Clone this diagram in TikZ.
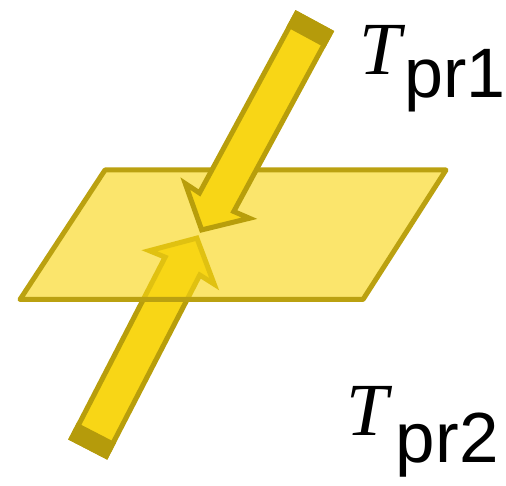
\documentclass[tikz,border=0pt]{standalone}
\usepackage{fontspec}
\setmainfont{Liberation Serif}
\newfontfamily\Sfnt{Liberation Sans}
\definecolor{arrowfill}{HTML}{F8D616}
\definecolor{arrowline}{HTML}{B89E0B}
\definecolor{capcol}{HTML}{B59B0B}
\definecolor{planeline}{HTML}{BBA110}
\begin{document}
\begin{tikzpicture}[x=1pt,y=1pt,
  arrowbody/.style={fill=arrowfill, draw=arrowline, line width=5pt, line join=miter, miter limit=10},
  arrowcap/.style={fill=capcol, draw=capcol, line width=5pt, line join=miter},
  planebox/.style={fill=arrowfill, fill opacity=0.63, draw=planeline, draw opacity=1, line width=5pt, line join=round},
  lbl/.style={anchor=base west, inner sep=0pt, font=\fontsize{75}{75}\selectfont}]
\useasboundingbox (0,0) rectangle (506,485);
% lower arrow (behind the plane)
\begin{scope}[shift={(198.5,250)}, rotate=242.7]
  \draw[arrowbody] (3.5,0) -- (36.5,36.5) -- (35,19.5) -- (239,19.5) -- (239,-19.5) -- (35,-19.5) -- (36.5,-36.5) -- cycle;
  \draw[arrowcap] (225,19.5) rectangle (239,-19.5);
\end{scope}
% plane
\draw[planebox] (105,315) -- (446,315) -- (363,185.5) -- (20,185.5) -- cycle;
% upper arrow (in front of the plane)
\begin{scope}[shift={(200,252)}, rotate=61.6]
  \draw[arrowbody] (3.5,0) -- (36.5,36.5) -- (35,19.5) -- (239,19.5) -- (239,-19.5) -- (35,-19.5) -- (36.5,-36.5) -- cycle;
  \draw[arrowcap] (225,19.5) rectangle (239,-19.5);
\end{scope}
% labels
\node[lbl] (tpr1) at (359,410) {\itshape T\hspace{3.3pt}\raisebox{-23pt}{\upshape\Sfnt\fontsize{70}{70}\selectfont pr1}};
\node[lbl] (tpr2) at (346,50) {\itshape T\hspace{8pt}\raisebox{-27pt}{\upshape\Sfnt\fontsize{71}{71}\selectfont pr2}};
\end{tikzpicture}
\end{document}
